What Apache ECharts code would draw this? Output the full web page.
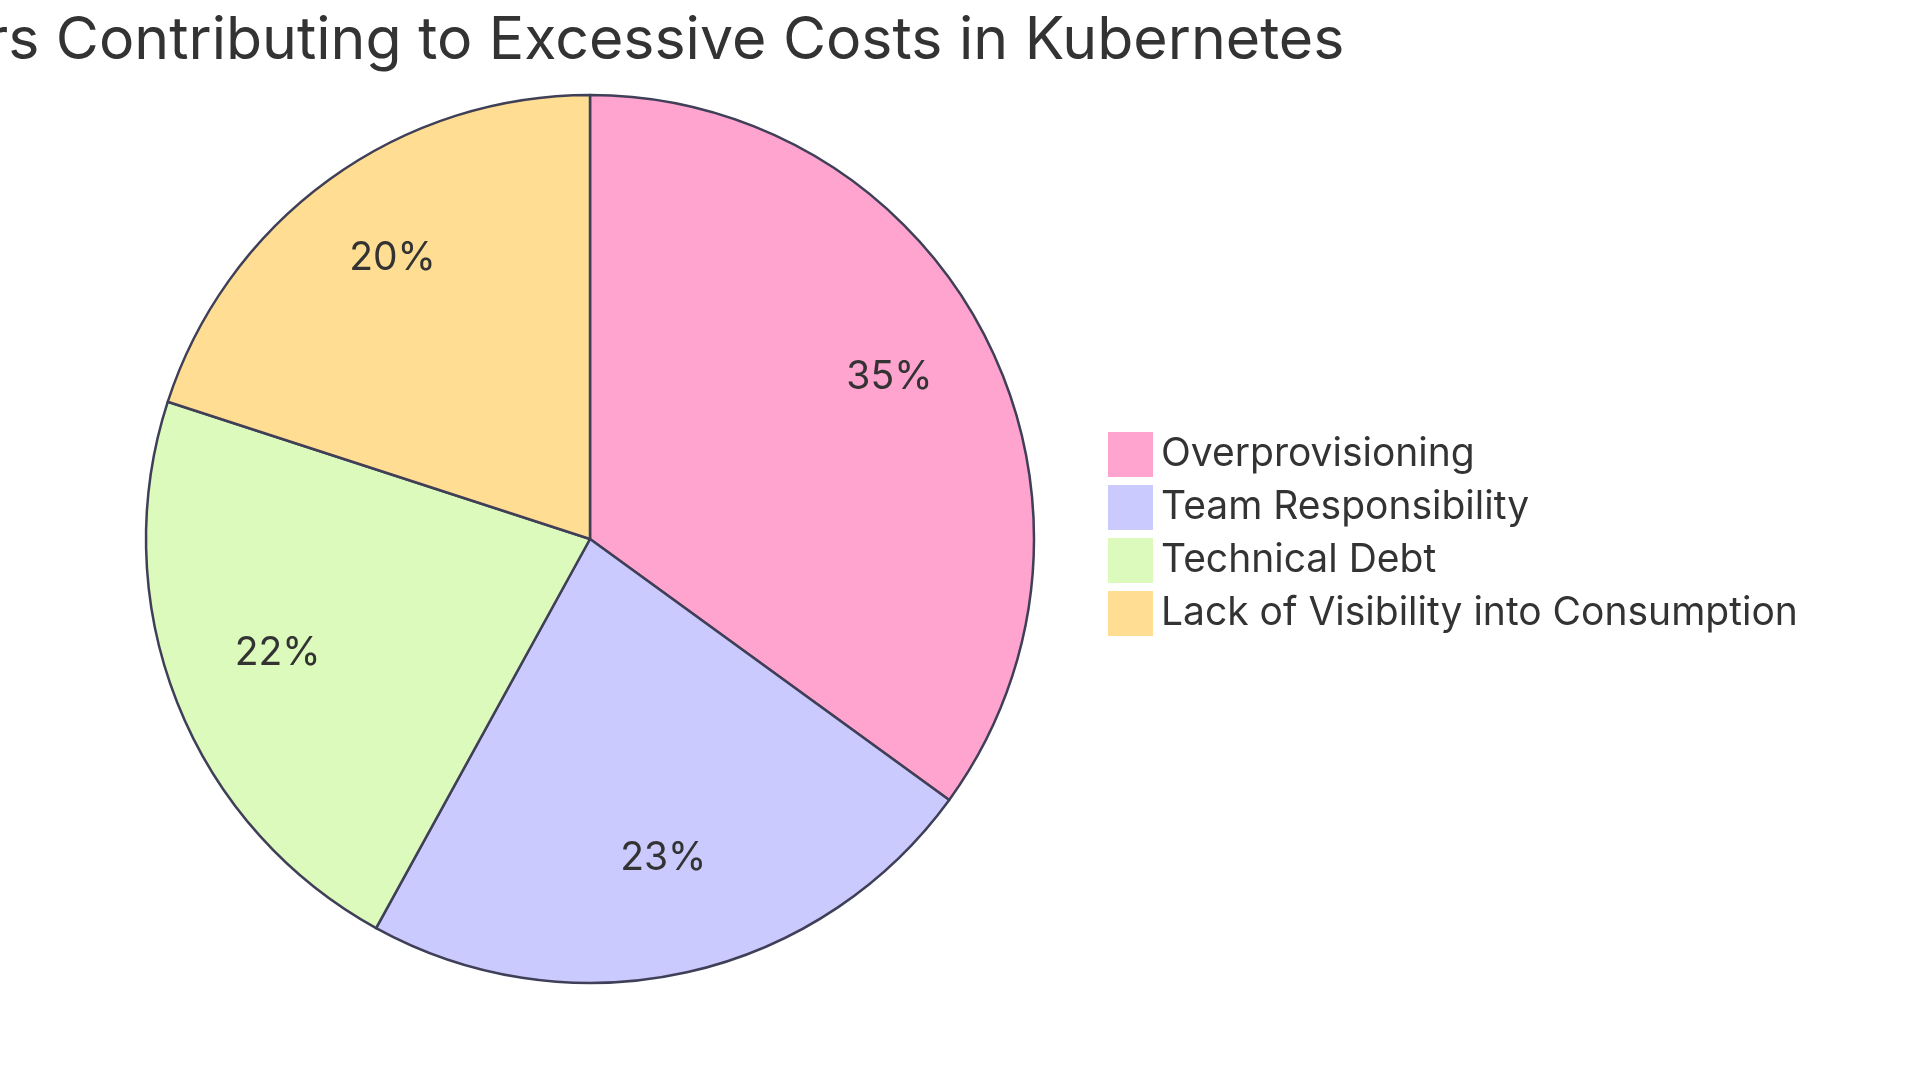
<!DOCTYPE html>
<html>
<head>
<meta charset="utf-8">
<title>Kubernetes costs</title>
<script src="https://cdn.jsdelivr.net/npm/echarts@6/dist/echarts.min.js"></script>
<style>
  html, body { margin: 0; padding: 0; background: #fff; }
  #chart { width: 1920px; height: 1080px; }
</style>
</head>
<body>
<div id="chart"></div>
<script>
var titleText = "Factors Contributing to Excessive Costs in Kubernetes";
var categories = ["Overprovisioning", "Team Responsibility", "Technical Debt", "Lack of Visibility into Consumption"];
var values = [35, 23, 22, 20];
var colors = ["#FFA3CF", "#CACAFE", "#DCFABB", "#FFDD93"];

var chart = echarts.init(document.getElementById("chart"));

var pieData = categories.map(function (name, i) {
  return { name: name, value: values[i] };
});

chart.setOption({
  animation: false,
  color: colors,
  textStyle: { fontFamily: "Inter" },
  graphic: [
    {
      type: "text",
      x: 588,
      y: 41,
      style: {
        text: titleText,
        align: "center",
        verticalAlign: "middle",
        fill: "#333333",
        font: "59px Inter"
      }
    }
  ],
  legend: {
    orient: "vertical",
    left: 1103,
    top: 427,
    icon: "rect",
    itemWidth: 45,
    itemHeight: 45,
    itemGap: 8,
    itemStyle: { borderWidth: 0 },
    textStyle: { fontSize: 39, lineHeight: 45, color: "#333333", fontFamily: "Inter", padding: [0, 0, 0, 3] },
    data: categories
  },
  series: [
    {
      type: "pie",
      center: [590, 539],
      radius: [0, 444],
      startAngle: 90,
      clockwise: true,
      label: { show: false },
      labelLine: { show: false },
      emphasis: { disabled: true },
      itemStyle: { borderColor: "#3f3f58", borderWidth: 2.5 },
      data: pieData
    },
    {
      // label ring only, places percentages at 3/4 radius
      type: "pie",
      center: [590, 539],
      radius: [222, 444],
      startAngle: 90,
      clockwise: true,
      silent: true,
      legendHoverLink: false,
      itemStyle: { color: "rgba(0,0,0,0)", borderWidth: 0 },
      label: {
        show: true,
        position: "inside",
        formatter: "{c}%",
        fontSize: 39,
        color: "#333333",
        fontFamily: "Inter",
        offset: [0, -9]
      },
      labelLine: { show: false },
      data: pieData
    }
  ]
});
</script>
</body>
</html>
